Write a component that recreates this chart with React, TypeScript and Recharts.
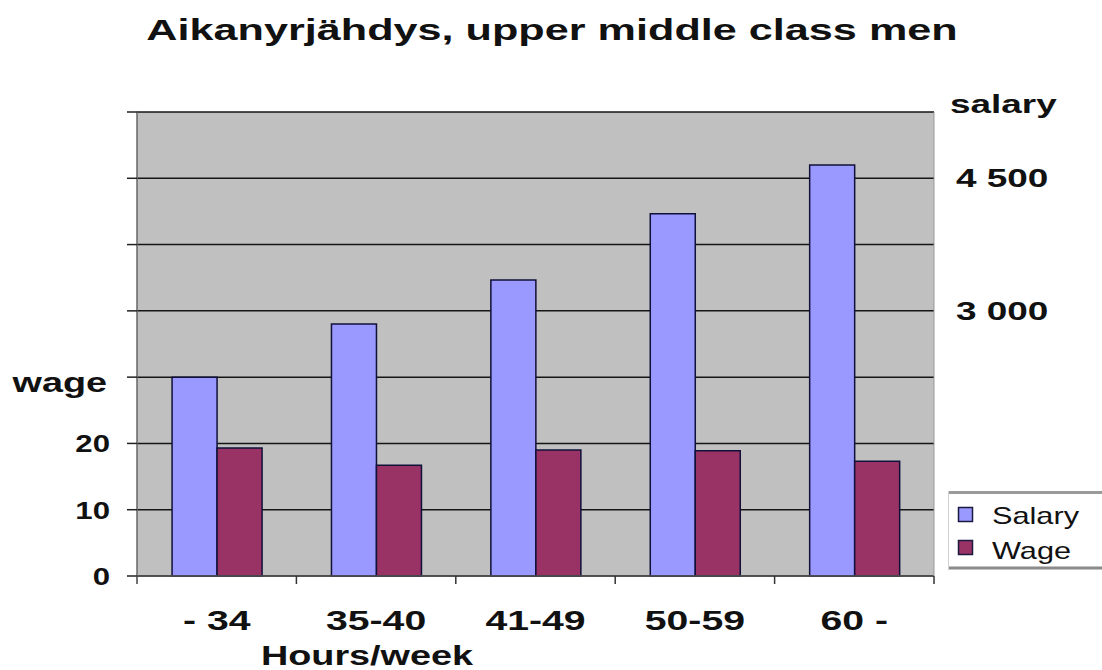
import React from 'react';
import { BarChart, Bar, XAxis, YAxis, CartesianGrid, Legend } from 'recharts';

const CATEGORIES = ['- 34', '35-40', '41-49', '50-59', '60 -'];
const SALARY = [2250, 2850, 3350, 4100, 4650];
const WAGE = [19.3, 16.7, 19.0, 18.9, 17.3];

const WAGE_TICKS = [0, 10, 20, 30, 40, 50, 60, 70];
const WAGE_TICK_LABELS = ['0', '10', '20', 'wage', '', '', '', ''];
const SALARY_TICKS = [3000, 4500, 5250];
const SALARY_TICK_LABELS = ['3 000', '4 500', 'salary'];

const TITLE = 'Aikanyrjähdys, upper middle class men';
const X_TITLE = 'Hours/week';

const data = CATEGORIES.map((hours, i) => ({
  hours,
  Salary: SALARY[i],
  Wage: WAGE[i],
}));

const COLORS: Record<string, string> = {
  Salary: '#9999ff',
  Wage: '#993366',
};

const FONT = "'Liberation Sans', Arial, sans-serif";

// old excel export is stretched sideways, so text gets a horizontal scale
const Stretch = ({ x, y, sx, size, anchor = 'start', weight = 'bold', children }: any) => (
  <text
    transform={`translate(${x},${y}) scale(${sx},1)`}
    textAnchor={anchor}
    fontSize={size}
    fontWeight={weight}
    fontFamily={FONT}
    fill='#111'
  >
    {children}
  </text>
);

const WageTick = ({ x, y, payload }: any) => {
  const label = WAGE_TICK_LABELS[WAGE_TICKS.indexOf(payload.value)];
  if (!label) return <g />;
  if (label === 'wage') {
    return <Stretch x={x - 3} y={y + 15} sx={1.4} size={27} anchor='end'>{label}</Stretch>;
  }
  return <Stretch x={x} y={y + 9} sx={1.3} size={24} anchor='end'>{label}</Stretch>;
};

const SalaryTick = ({ x, y, payload }: any) => {
  const label = SALARY_TICK_LABELS[SALARY_TICKS.indexOf(payload.value)];
  if (!label) return <g />;
  if (label === 'salary') {
    return <Stretch x={x - 6} y={y + 1} sx={1.42} size={26}>{label}</Stretch>;
  }
  return <Stretch x={x} y={y + 9} sx={1.42} size={26}>{label}</Stretch>;
};

// tick marks sit between categories, so draw them at the band edges
const HoursTick = ({ x, y, payload, index }: any) => {
  const half = payload.offset || 0;
  return (
    <g>
      {index === 0 && (
        <line x1={x - half} y1={y} x2={x - half} y2={y + 8} stroke='#444' strokeWidth={1.5} />
      )}
      <line x1={x + half} y1={y} x2={x + half} y2={y + 8} stroke='#333' strokeWidth={1.5} />
      <Stretch x={x} y={y + 54} sx={1.4} size={28} anchor='middle'>{payload.value}</Stretch>
    </g>
  );
};

const LegendBox = ({ payload }: any) => (
  <svg width={160} height={79} style={{ display: 'block' }}>
    <rect x={0} y={0} width={160} height={79} fill='#fff' />
    <line x1={0} y1={1.5} x2={160} y2={1.5} stroke='#9a9a9a' strokeWidth={3} />
    <line x1={0} y1={77} x2={160} y2={77} stroke='#8a8a8a' strokeWidth={3} />
    <line x1={0.5} y1={0} x2={0.5} y2={79} stroke='#d0d0d0' strokeWidth={1} />
    {(payload || []).map((p: any, i: number) => (
      <g key={p.value}>
        <rect
          x={10.5}
          y={16.5 + i * 33}
          width={14}
          height={14}
          fill={COLORS[p.value]}
          stroke='#1a1a40'
          strokeWidth={1.5}
        />
        <Stretch x={44} y={33 + i * 35} sx={1.28} size={24} weight='normal'>
          {p.value}
        </Stretch>
      </g>
    ))}
  </svg>
);

export default function App() {
  return (
    <div style={{ position: 'relative', width: 1102, height: 670, background: '#fff' }}>
      <style>{'body{margin:0}'}</style>
      <BarChart
        width={1102}
        height={670}
        data={data}
        margin={{ top: 112, right: 0, bottom: 0, left: 0 }}
        barCategoryGap='22%'
        barGap={0}
      >
        <CartesianGrid
          yAxisId='left'
          vertical={false}
          fill='#c0c0c0'
          fillOpacity={1}
          stroke='#151515'
          strokeWidth={1.5}
        />
        <XAxis
          dataKey='hours'
          height={94}
          tickLine={false}
          tickSize={0}
          tickMargin={0}
          axisLine={{ stroke: '#555', strokeWidth: 1.5 }}
          tick={<HoursTick />}
          interval={0}
        />
        <YAxis
          yAxisId='left'
          orientation='left'
          width={137}
          domain={[0, 70]}
          ticks={WAGE_TICKS}
          interval={0}
          tickSize={10}
          tickMargin={17}
          axisLine={{ stroke: '#666', strokeWidth: 1.5 }}
          tickLine={{ stroke: '#222', strokeWidth: 1.5 }}
          tick={<WageTick />}
        />
        <YAxis
          yAxisId='right'
          orientation='right'
          width={168}
          domain={[0, 5250]}
          ticks={SALARY_TICKS}
          interval={0}
          tickSize={0}
          tickMargin={22}
          tickLine={false}
          axisLine={{ stroke: '#999', strokeWidth: 1 }}
          tick={<SalaryTick />}
        />
        <Bar
          yAxisId='right'
          dataKey='Salary'
          fill={COLORS.Salary}
          stroke='#10103a'
          strokeWidth={1.5}
          isAnimationActive={false}
        />
        <Bar
          yAxisId='left'
          dataKey='Wage'
          fill={COLORS.Wage}
          stroke='#10103a'
          strokeWidth={1.5}
          isAnimationActive={false}
        />
        <Legend
          layout='vertical'
          align='center'
          verticalAlign='middle'
          wrapperStyle={{ left: 948, top: 491, width: 160, height: 79 }}
          content={<LegendBox />}
        />
      </BarChart>
      <svg
        width={1102}
        height={670}
        style={{ position: 'absolute', left: 0, top: 0, pointerEvents: 'none' }}
      >
        <Stretch x={552} y={40} sx={1.44} size={30} anchor='middle'>{TITLE}</Stretch>
        <Stretch x={367} y={665} sx={1.35} size={28} anchor='middle'>{X_TITLE}</Stretch>
      </svg>
    </div>
  );
}
